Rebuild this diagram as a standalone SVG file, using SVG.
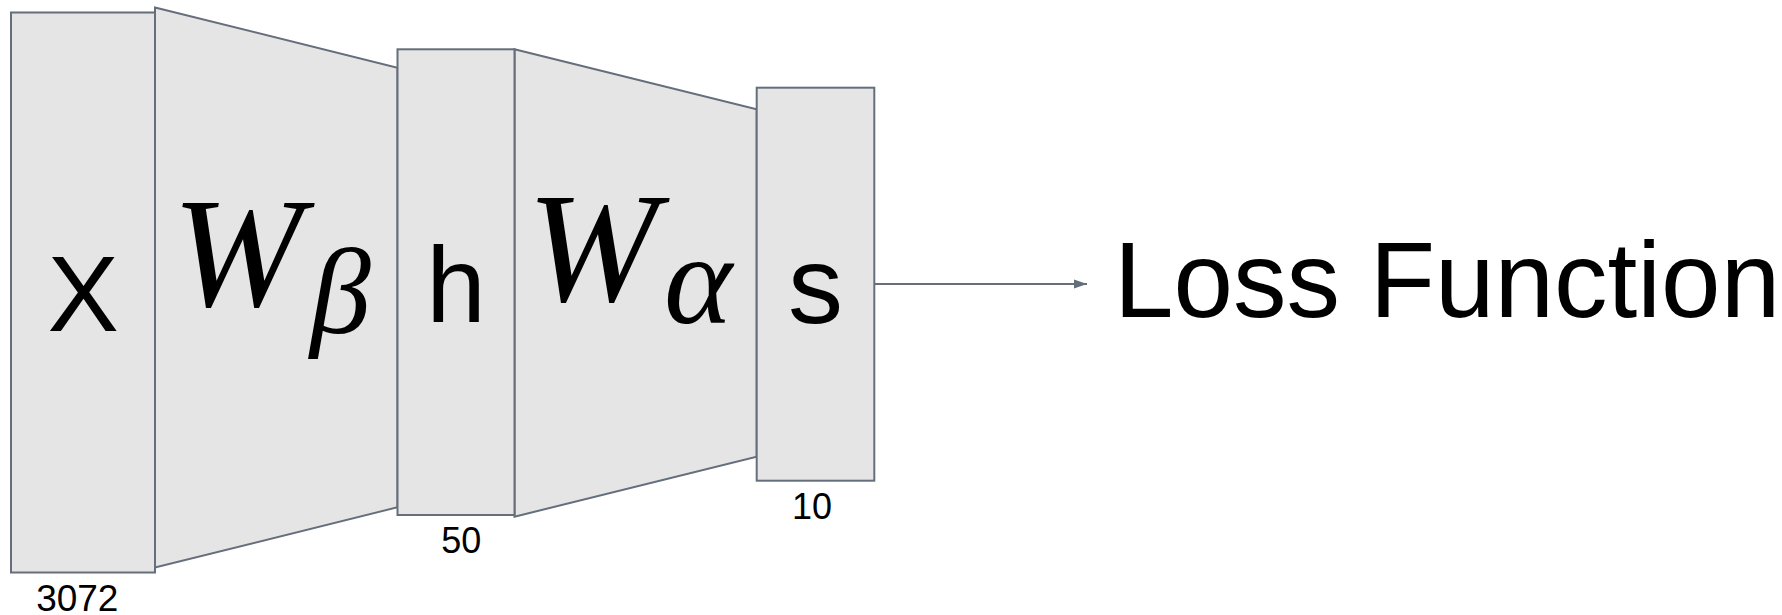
<svg xmlns="http://www.w3.org/2000/svg" width="1782" height="615" viewBox="0 0 1782 615">
  <style>
    .shape { fill: #e5e5e5; stroke: #646f7b; stroke-width: 2; stroke-linejoin: miter; }
    .sans { font-family: "Liberation Sans", Arial, sans-serif; fill: #000; }
    .math { font-family: "Liberation Serif", "Times New Roman", serif; font-style: italic; fill: #000; }
    .conn { stroke: #646f7b; stroke-width: 2; fill: none; }
  </style>
  <defs>
    <marker id="arrow" markerUnits="userSpaceOnUse" markerWidth="14" markerHeight="10" refX="13" refY="5" orient="auto">
      <polygon points="0,0.5 13,5 0,9.5" fill="#646f7b"/>
    </marker>
  </defs>
  <rect width="1782" height="615" fill="#ffffff"/>

  <g id="W_beta">
    <polygon class="shape" points="155,7.5 397.5,67.7 397.5,507.3 155,567.5"/>
    <text class="math" x="172" y="306" font-size="157">W</text>
    <text class="math" x="310" y="333" font-size="122">β</text>
  </g>
  <g id="W_alpha">
    <polygon class="shape" points="514.5,49.3 756.7,109.3 756.7,456.7 514.5,516.7"/>
    <text class="math" x="527" y="301" font-size="157">W</text>
    <text class="math" x="664" y="323" font-size="130">α</text>
  </g>

  <g id="node_x">
    <rect class="shape" x="11" y="12.5" width="144" height="560"/>
    <text class="sans" x="83.3" y="330.7" font-size="107" text-anchor="middle">X</text>
    <text class="sans" x="77.3" y="610.5" font-size="37" text-anchor="middle">3072</text>
  </g>
  <g id="node_h">
    <rect class="shape" x="397.5" y="49.3" width="117" height="465.7"/>
    <text class="sans" x="456" y="322" font-size="107" text-anchor="middle">h</text>
    <text class="sans" x="461.3" y="553.3" font-size="36" text-anchor="middle">50</text>
  </g>
  <g id="node_s">
    <rect class="shape" x="756.7" y="87.7" width="117.6" height="393"/>
    <text class="sans" x="815.5" y="323" font-size="110" text-anchor="middle">s</text>
    <text class="sans" x="812" y="519" font-size="36" text-anchor="middle">10</text>
  </g>
  <g id="node_loss">
    <text class="sans" x="1114" y="317" font-size="107">Loss Function</text>
  </g>

  <g id="connectors">
    <line class="conn" x1="874.3" y1="284" x2="1087" y2="284" marker-end="url(#arrow)"/>
  </g>
</svg>
